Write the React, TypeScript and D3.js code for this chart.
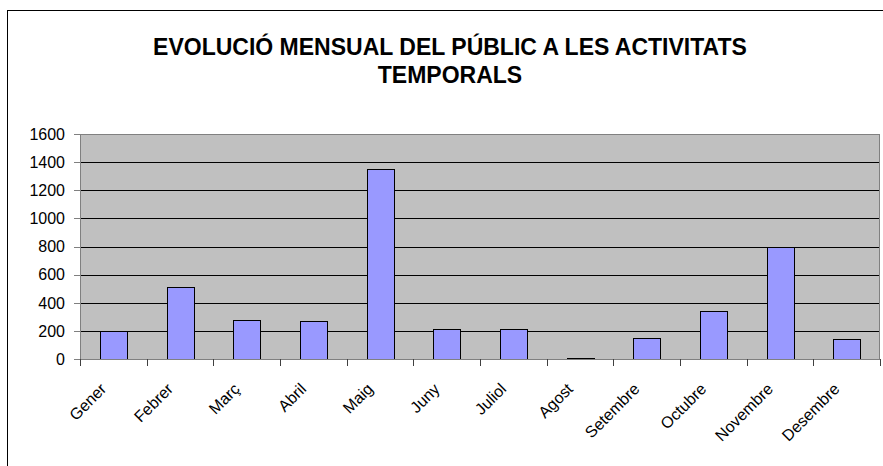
import React from 'react';
import * as d3 from 'd3';

const months = ['Gener', 'Febrer', 'Març', 'Abril', 'Maig', 'Juny', 'Juliol', 'Agost', 'Setembre', 'Octubre', 'Novembre', 'Desembre'];
const visitors = [200, 510, 280, 270, 1350, 215, 210, 5, 150, 340, 795, 140];
const yTicks = [0, 200, 400, 600, 800, 1000, 1200, 1400, 1600];
const titleLines = ['EVOLUCIÓ MENSUAL DEL PÚBLIC A LES ACTIVITATS', 'TEMPORALS'];

const W = 883;
const H = 466;
const plot = { left: 80, right: 880, top: 134, bottom: 359 };
const font = 'Arial, "Liberation Sans", sans-serif';

const App: React.FC = () => {
  const x = d3.scaleBand<string>()
    .domain(months)
    .range([plot.left, plot.right])
    .paddingInner(0.6)
    .paddingOuter(0.3);

  const y = d3.scaleLinear()
    .domain([0, 1600])
    .range([plot.bottom, plot.top]);

  const step = x.step();
  // category boundaries (Excel puts ticks between categories)
  const boundaries = months.map(m => (x(m) as number) - step * 0.3).concat([plot.right]);
  const crisp = (v: number) => Math.round(v) + 0.5;

  return (
    <svg width={W} height={H} style={{ position: 'absolute', left: 0, top: 0, background: '#fff' }} fontFamily={font}>
      {/* chart area border */}
      <rect x={7.5} y={10.5} width={W} height={H} fill="none" stroke="#000" />

      {titleLines.map((t, i) => (
        <text key={t} x={450} y={55 + i * 28} textAnchor="middle" fontSize={23} fontWeight="bold" fill="#000">
          {t}
        </text>
      ))}

      {/* plot area */}
      <rect x={plot.left} y={plot.top} width={plot.right - plot.left} height={plot.bottom - plot.top} fill="#c0c0c0" />

      {yTicks.filter(t => t > 0 && t < 1600).map(t => (
        <line key={t} x1={plot.left} x2={plot.right} y1={crisp(y(t))} y2={crisp(y(t))} stroke="#000" />
      ))}

      {months.map((m, i) => (
        <rect
          key={m}
          x={Math.round(x(m) as number) + 0.5}
          y={crisp(y(visitors[i]))}
          width={Math.round(x.bandwidth())}
          height={Math.max(0, Math.round(y(0)) - Math.round(y(visitors[i])))}
          fill="#9999ff"
          stroke="#000"
          strokeWidth={1}
        />
      ))}

      <rect x={plot.left + 0.5} y={crisp(plot.top)} width={plot.right - plot.left - 1} height={Math.round(plot.bottom - plot.top)} fill="none" stroke="#808080" />

      {/* y axis */}
      <line x1={plot.left + 0.5} x2={plot.left + 0.5} y1={plot.top} y2={plot.bottom + 1} stroke="#808080" />
      {yTicks.map(t => (
        <g key={t}>
          <line x1={plot.left - 6} x2={plot.left} y1={crisp(y(t))} y2={crisp(y(t))} stroke="#808080" />
          <text x={65} y={y(t)} dy="0.36em" textAnchor="end" fontSize={16} fill="#000">{t}</text>
        </g>
      ))}

      {/* x axis */}
      <line x1={plot.left} x2={plot.right} y1={crisp(plot.bottom)} y2={crisp(plot.bottom)} stroke="#808080" />
      {boundaries.map((b, i) => (
        <line key={i} x1={crisp(b)} x2={crisp(b)} y1={plot.bottom} y2={plot.bottom + 7} stroke="#404040" />
      ))}
      {months.map(m => {
        const cx = (x(m) as number) + x.bandwidth() / 2;
        return (
          <text key={m} transform={`translate(${cx - 6},${plot.bottom + 31}) rotate(-45)`} textAnchor="end" fontSize={16} fill="#000">
            {m}
          </text>
        );
      })}
    </svg>
  );
};

export default App;
